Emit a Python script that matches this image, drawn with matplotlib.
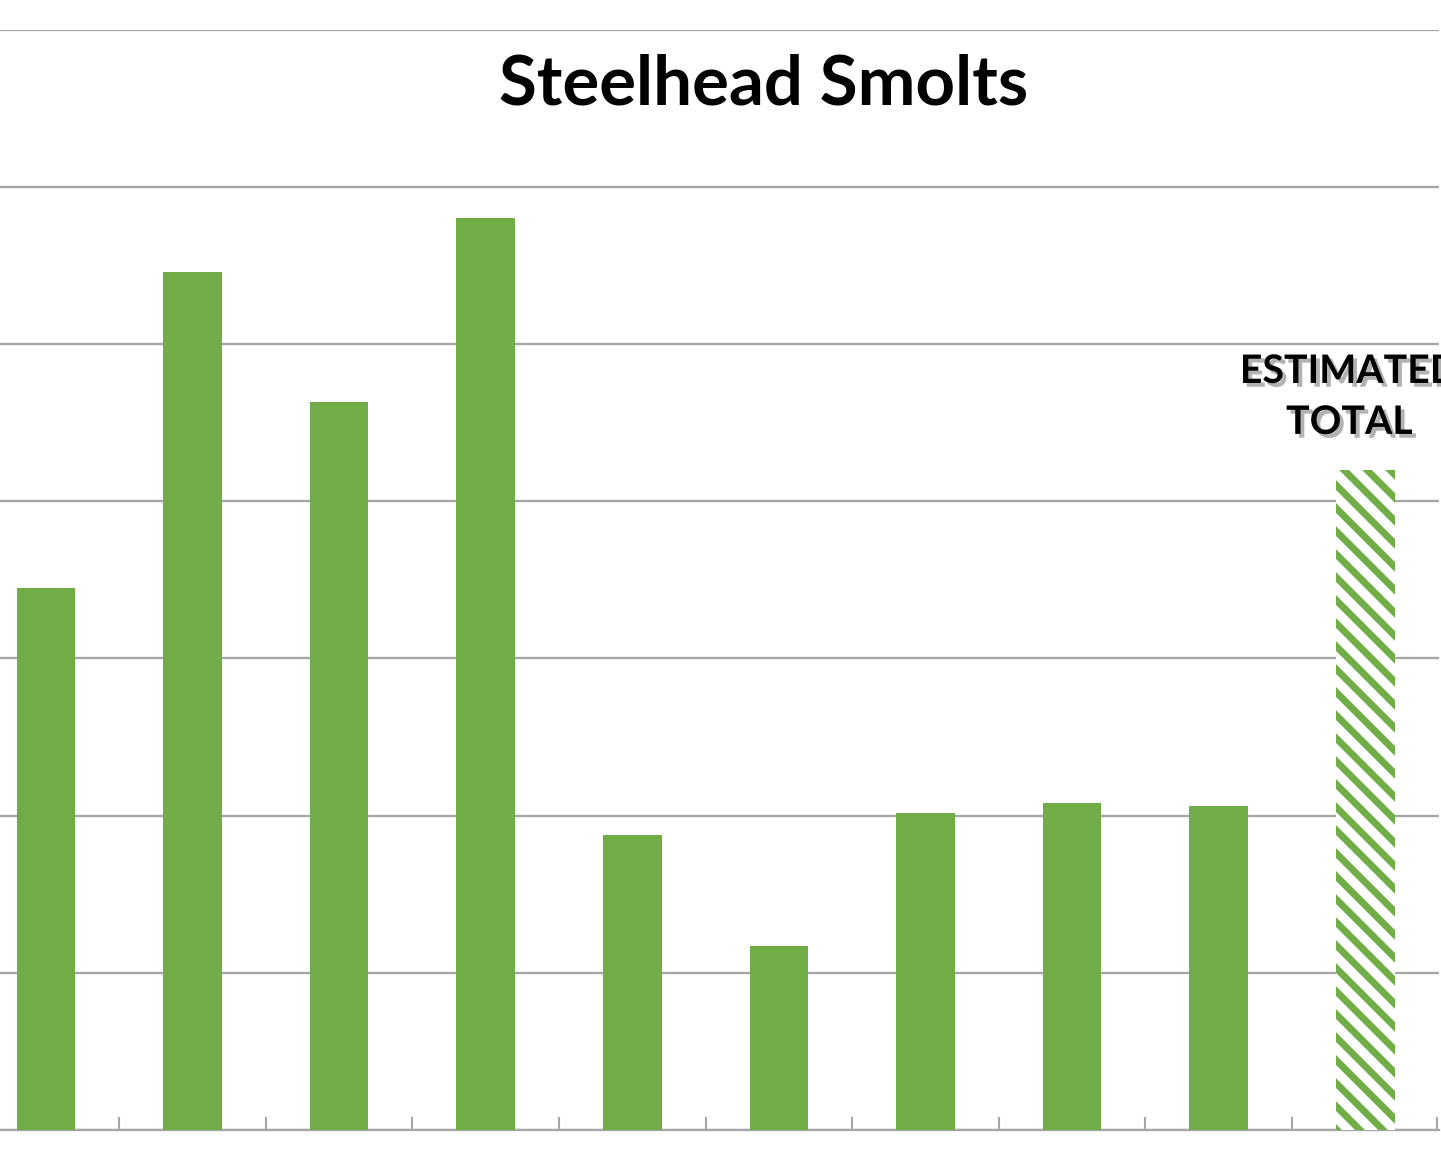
import matplotlib
matplotlib.use('Agg')
import matplotlib.pyplot as plt
import matplotlib.patheffects as pe

# bar heights (gridline step = 10000)
years = ['1', '2', '3', '4', '5', '6', '7', '8', '9', 'est']
smolts = [34500, 54600, 46300, 58000, 18800, 11700, 20200, 20800, 20600, 42000]
estimated = [False] * 9 + [True]

green = '#70ad47'
grid_col = '#a6a6a6'

plt.rcParams['font.family'] = ['Lato', 'DejaVu Sans']
plt.rcParams['hatch.linewidth'] = 3.6

dpi = 138
fig = plt.figure(figsize=(1441 / dpi, 1152 / dpi), dpi=dpi)
ax = fig.add_axes([-0.019, 0.0191, 1.0174, 0.955])

for i, (v, est) in enumerate(zip(smolts, estimated)):
    if est:
        ax.bar(i, v, width=0.4, facecolor='white', edgecolor=green,
               hatch='\\\\', linewidth=0, zorder=3)
    else:
        ax.bar(i, v, width=0.4, color=green, linewidth=0, zorder=3)

ax.set_xlim(-0.5, len(years) - 0.5)
ax.set_ylim(0, 70000)
ax.set_yticks(range(0, 70001, 10000))
ax.yaxis.grid(True, color=grid_col, linewidth=1.2)
ax.set_axisbelow(True)
ax.tick_params(axis='y', left=False, labelleft=False)

# category boundary ticks, pointing up
ax.set_xticks([i + 0.5 for i in range(len(years) - 1)] + [len(years) - 0.51])
ax.tick_params(axis='x', direction='in', length=7, width=1.1, color=grid_col,
               labelbottom=False)

for s in ['left', 'right', 'top']:
    ax.spines[s].set_visible(False)
ax.spines['bottom'].set_color(grid_col)
ax.spines['bottom'].set_linewidth(1.2)

fig.text(764 / 1441, 1 - 85 / 1152, 'Steelhead Smolts', ha='center', va='center',
         fontsize=36, fontweight='bold')

lab = ax.annotate('ESTIMATED\nTOTAL', xy=(9, smolts[9]), xytext=(-16, 30),
                  textcoords='offset pixels', ha='center', va='bottom',
                  multialignment='center', fontsize=20.5, fontweight='bold',
                  linespacing=1.55)
lab.set_path_effects([pe.withSimplePatchShadow(offset=(2, -2), shadow_rgbFace='gray', alpha=0.6)])

fig.savefig('out.png', dpi=dpi)
